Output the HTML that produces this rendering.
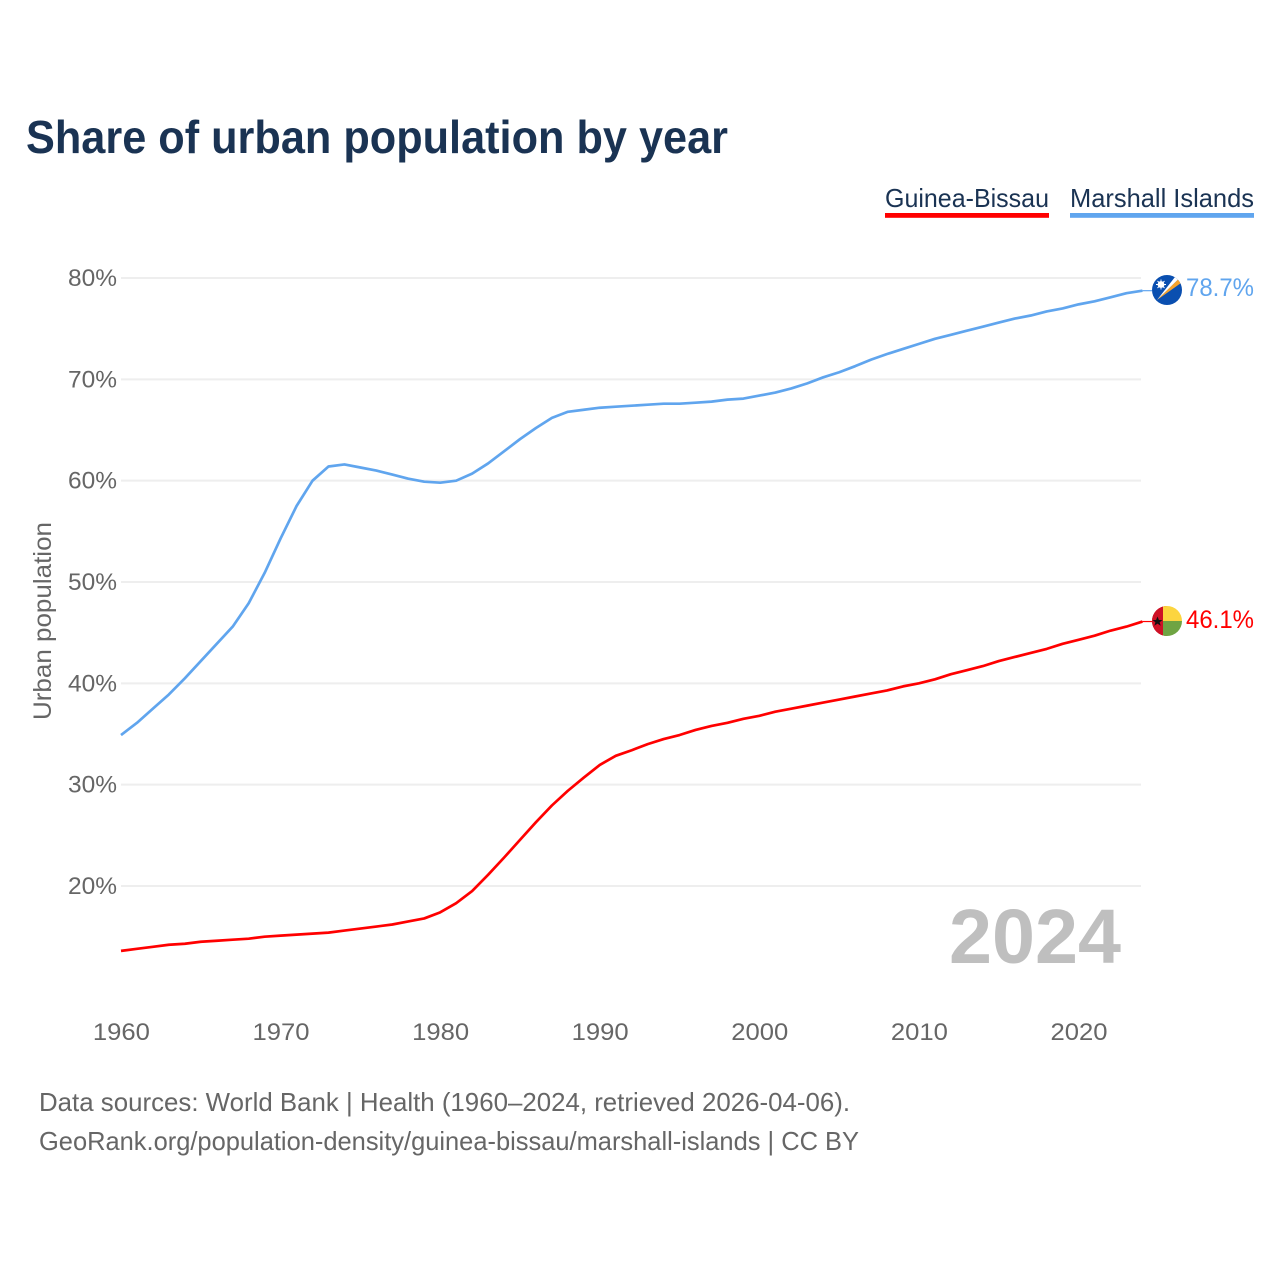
<!DOCTYPE html>
<html lang="en">
<head>
<meta charset="utf-8">
<title>Share of urban population by year</title>
<style>
html,body{margin:0;padding:0;background:#fff;width:1280px;height:1280px;overflow:hidden}
svg{display:block}
text{font-family:"Liberation Sans",sans-serif}
</style>
</head>
<body>
<svg id="chart" xmlns="http://www.w3.org/2000/svg" width="1280" height="1280" viewBox="0 0 1280 1280">
  <rect x="0" y="0" width="1280" height="1280" fill="#fff"/>
  <text x="26" y="153" font-size="46" font-weight="700" fill="#1a3353" textLength="702" lengthAdjust="spacingAndGlyphs">Share of urban population by year</text>

  <g>
    <text x="885" y="207" font-size="26" fill="#1a3353" textLength="164" lengthAdjust="spacingAndGlyphs">Guinea-Bissau</text>
    <rect x="885" y="213" width="164" height="4.8" fill="#ff0000"/>
  </g>
  <g>
    <text x="1070" y="207" font-size="26" fill="#1a3353" textLength="184" lengthAdjust="spacingAndGlyphs">Marshall Islands</text>
    <rect x="1070" y="213" width="184" height="4.8" fill="#60a5ee"/>
  </g>

  <g id="grid"></g>
  <g id="yticks"></g>
  <g id="xticks"></g>
  <text transform="translate(51,621) rotate(-90)" text-anchor="middle" font-size="25" fill="#666" textLength="198" lengthAdjust="spacingAndGlyphs">Urban population</text>

  <text x="949" y="963" font-size="77" font-weight="700" fill="#bfbfbf" textLength="172" lengthAdjust="spacingAndGlyphs">2024</text>

  <g id="series"></g>

  <g id="flag-mh">
    <clipPath id="clip-mh"><circle cx="1167" cy="290" r="15"/></clipPath>
    <g clip-path="url(#clip-mh)">
      <rect x="1152" y="275" width="30" height="30" fill="#0a4fb0"/>
      <polygon points="1157,300 1178.5,279 1181,283" fill="#f6a32c"/>
      <polygon points="1157,300 1175,277 1178.5,279" fill="#ffffff"/>
      <circle cx="1161" cy="284.5" r="3.4" fill="#ffffff"/>
      <path d="M1161 279.5V289.5M1156 284.5H1166M1157.5 281L1164.5 288M1164.5 281L1157.5 288" stroke="#ffffff" stroke-width="0.9"/>
    </g>
  </g>
  <g id="flag-gw">
    <clipPath id="clip-gw"><circle cx="1167" cy="621" r="15"/></clipPath>
    <g clip-path="url(#clip-gw)">
      <rect x="1152" y="606" width="15" height="30" fill="#ce1126"/>
      <rect x="1163" y="606" width="19" height="15" fill="#fcd53f"/>
      <rect x="1163" y="621" width="19" height="15" fill="#6fa443"/>
      <rect x="1152" y="606" width="11" height="30" fill="#ce1126"/>
      <polygon points="1157.5,616.5 1158.9,620 1162.5,620 1159.6,622.2 1160.7,625.8 1157.5,623.6 1154.3,625.8 1155.4,622.2 1152.5,620 1156.1,620" fill="#111"/>
    </g>
  </g>

  <text x="1186" y="296" font-size="25" fill="#60a5ee" textLength="68" lengthAdjust="spacingAndGlyphs">78.7%</text>
  <text x="1186" y="628" font-size="25" fill="#ff0000" textLength="68" lengthAdjust="spacingAndGlyphs">46.1%</text>

  <text x="39" y="1111" font-size="26" fill="#666" textLength="811" lengthAdjust="spacingAndGlyphs">Data sources: World Bank | Health (1960–2024, retrieved 2026-04-06).</text>
  <text x="39" y="1150" font-size="26" fill="#666" textLength="820" lengthAdjust="spacingAndGlyphs">GeoRank.org/population-density/guinea-bissau/marshall-islands | CC BY</text>
</svg>
<script>
const startYear = 1960;
const yTickValues = [20, 30, 40, 50, 60, 70, 80];
const xTickValues = [1960, 1970, 1980, 1990, 2000, 2010, 2020];
const guineaBissau = [13.6,13.8,14.0,14.2,14.3,14.5,14.6,14.7,14.8,15.0,15.1,15.2,15.3,15.4,15.6,15.8,16.0,16.2,16.5,16.8,17.4,18.3,19.5,21.1,22.8,24.55,26.3,27.95,29.4,30.7,31.95,32.85,33.4,34.0,34.5,34.9,35.4,35.8,36.1,36.5,36.8,37.2,37.5,37.8,38.1,38.4,38.7,39.0,39.3,39.7,40.0,40.4,40.9,41.3,41.7,42.2,42.6,43.0,43.4,43.9,44.3,44.7,45.2,45.6,46.1];
const marshallIslands = [34.9,36.1,37.5,38.9,40.5,42.2,43.9,45.6,47.9,50.9,54.3,57.5,60.0,61.4,61.6,61.3,61.0,60.6,60.2,59.9,59.8,60.0,60.7,61.7,62.9,64.1,65.2,66.2,66.8,67.0,67.2,67.3,67.4,67.5,67.6,67.6,67.7,67.8,68.0,68.1,68.4,68.7,69.1,69.6,70.2,70.7,71.3,71.95,72.5,73.0,73.5,74.0,74.4,74.8,75.2,75.6,76.0,76.3,76.7,77.0,77.4,77.7,78.1,78.5,78.75];

const NS = 'http://www.w3.org/2000/svg';
const xScale = function (year) { return 121 + (year - 1960) * 15.96; };
const yScale = function (value) { return 886 - (value - 20) * 10.133; };

function make(tag, parent, attrs, text) {
  const el = document.createElementNS(NS, tag);
  Object.keys(attrs).forEach(function (k) { el.setAttribute(k, attrs[k]); });
  if (text !== undefined) el.textContent = text;
  parent.appendChild(el);
  return el;
}

const gridGroup = document.getElementById('grid');
const yTickGroup = document.getElementById('yticks');
const xTickGroup = document.getElementById('xticks');
const seriesGroup = document.getElementById('series');

yTickValues.forEach(function (v) {
  const line = make('line', gridGroup, { x1: 121, x2: 1141, y1: yScale(v), y2: yScale(v), stroke: '#eeeeee', 'stroke-width': 2 });
  
  
  const label = make('text', yTickGroup, { x: 117, y: yScale(v) + 8, 'text-anchor': 'end', 'font-size': 24, fill: '#666', textLength: 49, lengthAdjust: 'spacingAndGlyphs' }, v + '%');
  
  
});

xTickValues.forEach(function (y) {
  const label = make('text', xTickGroup, { x: xScale(y) + 0.4, y: 1040, 'text-anchor': 'middle', 'font-size': 24, fill: '#666', textLength: 57, lengthAdjust: 'spacingAndGlyphs' }, String(y));
  
  
});

function linePath(values) {
  return values.map(function (v, i) {
    return (i ? 'L' : 'M') + xScale(startYear + i).toFixed(2) + ' ' + yScale(v).toFixed(2);
  }).join(' ');
}

const lineGB = make('path', seriesGroup, { d: linePath(guineaBissau), fill: 'none', stroke: '#ff0000', 'stroke-width': 2.7, 'stroke-linejoin': 'round' });



const lineMH = make('path', seriesGroup, { d: linePath(marshallIslands), fill: 'none', stroke: '#60a5ee', 'stroke-width': 2.7, 'stroke-linejoin': 'round' });



const lastX = xScale(startYear + guineaBissau.length - 1);
const lastGB = yScale(guineaBissau[guineaBissau.length - 1]);
const lastMH = yScale(marshallIslands[marshallIslands.length - 1]);

const connectorGB = make('line', seriesGroup, { x1: lastX, x2: 1152, y1: lastGB, y2: lastGB, stroke: '#ff0000', 'stroke-width': 1.2 });



const connectorMH = make('line', seriesGroup, { x1: lastX, x2: 1152, y1: lastMH, y2: lastMH, stroke: '#60a5ee', 'stroke-width': 1.2 });


</script>
</body>
</html>
